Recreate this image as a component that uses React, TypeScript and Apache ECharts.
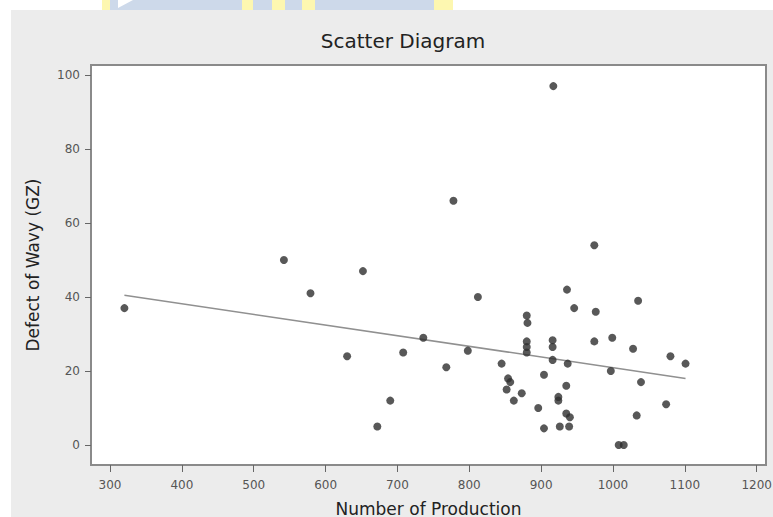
import React, { useEffect, useRef } from "react";
import * as echarts from "echarts";

// Observed data (Number of Production vs Defect of Wavy)
const production = [
  320, 542, 579, 652, 630, 690, 672, 778, 812, 736, 708, 768, 798, 845,
  880, 881, 880, 880, 880, 916, 916, 916, 936, 946, 937, 904, 854, 857,
  852, 873, 862, 935, 924, 924, 896, 935, 940, 904, 926, 939, 974, 1035,
  976, 974, 999, 1028, 1080, 1101, 997, 1039, 1074, 1033, 1008, 1015, 917,
];
const defects = [
  37, 50, 41, 47, 24, 12, 5, 66, 40, 29, 25, 21, 25.5, 22,
  35, 33, 28, 26.5, 25, 28.3, 26.5, 23, 42, 37, 22, 19, 18, 17,
  15, 14, 12, 16, 13, 12, 10, 8.5, 7.5, 4.5, 5, 5, 54, 39,
  36, 28, 29, 26, 24, 22, 20, 17, 11, 8, 0, 0, 97,
];

// Fitted regression line end points
const fitX = [320, 1101];
const fitY = [40.5, 18.0];

const xTicks = [300, 400, 500, 600, 700, 800, 900, 1000, 1100, 1200];
const yTicks = [0, 20, 40, 60, 80, 100];

const title = "Scatter Diagram";
const xName = "Number of Production";
const yName = "Defect of Wavy (GZ)";

export default function App() {
  const ref = useRef<HTMLDivElement>(null);
  useEffect(() => {
    if (!ref.current) return;
    const chart = echarts.init(ref.current, undefined, { renderer: "svg" });
    const font = "DejaVu Sans";
    chart.setOption({
      animation: false,
      backgroundColor: "#ffffff",
      graphic: [
        {
          type: "rect",
          z: -10,
          silent: true,
          shape: { x: 11, y: 10, width: 762, height: 507 },
          style: { fill: "#ececec" },
        },
        { type: "rect", z: -10, silent: true, shape: { x: 110, y: 0, width: 324, height: 10 }, style: { fill: "#cdd9ea" } },
        { type: "rect", z: -10, silent: true, shape: { x: 102, y: 0, width: 8, height: 10 }, style: { fill: "#fdf7b0" } },
        { type: "rect", z: -10, silent: true, shape: { x: 242, y: 0, width: 11, height: 10 }, style: { fill: "#fdf7b0" } },
        { type: "rect", z: -10, silent: true, shape: { x: 272, y: 0, width: 13, height: 10 }, style: { fill: "#fdf7b0" } },
        { type: "rect", z: -10, silent: true, shape: { x: 302, y: 0, width: 13, height: 10 }, style: { fill: "#fdf7b0" } },
        { type: "rect", z: -10, silent: true, shape: { x: 434, y: 0, width: 19, height: 10 }, style: { fill: "#fdf7b0" } },
        { type: "polygon", z: -9, silent: true, shape: { points: [[118, 0], [133, 0], [118, 8]] }, style: { fill: "#ffffff" } },
      ],
      title: {
        text: title,
        left: 398,
        top: 26,
        textAlign: "center",
        textStyle: { fontFamily: font, fontSize: 20, fontWeight: "normal", color: "#222" },
      },
      grid: {
        left: 91,
        top: 65,
        width: 675,
        height: 400,
        outerBoundsMode: "none",
        containLabel: false,
        show: true,
        backgroundColor: "#ffffff",
        borderColor: "#8a8a8a",
        borderWidth: 2,
      },
      xAxis: {
        type: "value",
        min: 273.5,
        max: 1213,
        name: xName,
        nameLocation: "middle",
        nameGap: 35,
        nameTextStyle: { fontFamily: font, fontSize: 17, color: "#222" },
        axisLine: { show: true, onZero: false, lineStyle: { color: "#8a8a8a", width: 2 } },
        axisTick: { show: true, length: 7, customValues: xTicks, lineStyle: { color: "#666" } },
        axisLabel: {
          customValues: xTicks,
          margin: 14,
          fontFamily: font,
          fontSize: 12,
          color: "#555",
          formatter: (v: number) => String(Math.round(v)),
        },
        splitLine: { show: false },
      },
      yAxis: {
        type: "value",
        min: -5.4,
        max: 102.7,
        name: yName,
        nameLocation: "middle",
        nameGap: 50,
        nameTextStyle: { fontFamily: font, fontSize: 17, color: "#222" },
        axisLine: { show: true, onZero: false, lineStyle: { color: "#8a8a8a", width: 2 } },
        axisTick: { show: true, length: 6, customValues: yTicks, lineStyle: { color: "#666" } },
        axisLabel: {
          customValues: yTicks,
          margin: 11,
          fontFamily: font,
          fontSize: 12,
          color: "#555",
          formatter: (v: number) => String(Math.round(v)),
        },
        splitLine: { show: false },
      },
      series: [
        {
          type: "line",
          data: fitX.map((x, i) => [x, fitY[i]]),
          symbol: "none",
          lineStyle: { color: "#909090", width: 1.5 },
          z: 1,
        },
        {
          type: "scatter",
          data: production.map((x, i) => [x, defects[i]]),
          symbol: "circle",
          symbolSize: 8,
          itemStyle: { color: "#2e2e2e" },
          z: 2,
        },
      ],
    });
    return () => chart.dispose();
  }, []);
  return (
    <div
      ref={ref}
      style={{ position: "fixed", left: 0, top: 0, width: 773, height: 517 }}
    />
  );
}
